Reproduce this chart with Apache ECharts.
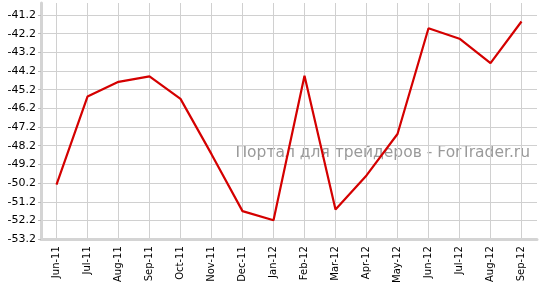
<!DOCTYPE html>
<html>
<head>
<meta charset="utf-8">
<script src="https://cdn.jsdelivr.net/npm/echarts@6/dist/echarts.min.js"></script>
<style>html,body{margin:0;padding:0;background:#fff}#c{width:551px;height:286px}</style>
</head>
<body>
<div id="c"></div>
<script>
var categories = ['Jun-11','Jul-11','Aug-11','Sep-11','Oct-11','Nov-11','Dec-11','Jan-12','Feb-12','Mar-12','Apr-12','May-12','Jun-12','Jul-12','Aug-12','Sep-12'];
var values = [-50.28,-45.57,-44.78,-44.49,-45.69,-48.65,-51.70,-52.19,-44.45,-51.61,-49.79,-47.57,-41.91,-42.47,-43.78,-41.55];
var yMin = -53.2;
var yMax = -40.56;
var watermark = 'Портал для трейдеров - ForTrader.ru';

var chart = echarts.init(document.getElementById('c'), null, {renderer: 'canvas'});
var offsetData = values.map(function (v) { return +(v - yMin).toFixed(4); });
chart.setOption({
  animation: false,
  backgroundColor: '#fff',
  grid: {left: 41, right: 14, top: 3, bottom: 45},
  xAxis: {
    type: 'category',
    data: categories,
    boundaryGap: true,
    axisLine: {lineStyle: {color: '#d4d4d4', width: 3}},
    axisTick: {alignWithLabel: true, length: 5, lineStyle: {color: '#bbb'}},
    axisLabel: {rotate: 90, color: '#000', fontFamily: 'DejaVu Sans', fontSize: 10, margin: 7, interval: 0},
    splitLine: {show: true, alignWithLabel: true, lineStyle: {color: '#d0d0d0', width: 1}}
  },
  yAxis: {
    type: 'value',
    min: 0,
    max: +(yMax - yMin).toFixed(2),
    interval: 1,
    axisLine: {show: true, lineStyle: {color: '#d4d4d4', width: 3}},
    axisTick: {show: true, length: 3, lineStyle: {color: '#bbb'}},
    axisLabel: {color: '#000', fontFamily: 'DejaVu Sans', fontSize: 11, margin: 5, showMaxLabel: false,
      formatter: function (v) { return (v + yMin).toFixed(1); }},
    splitLine: {show: true, showMaxLine: false, lineStyle: {color: '#d0d0d0', width: 1}}
  },
  graphic: [{
    type: 'text',
    right: 21,
    top: 145,
    silent: true,
    z: 0,
    style: {text: watermark, fill: '#9a9a9a', font: '15.5px "DejaVu Sans"'}
  }],
  series: [{
    type: 'line',
    data: offsetData,
    symbol: 'none',
    lineStyle: {color: '#d40000', width: 2.2},
    z: 10
  }]
});
</script>
</body>
</html>
